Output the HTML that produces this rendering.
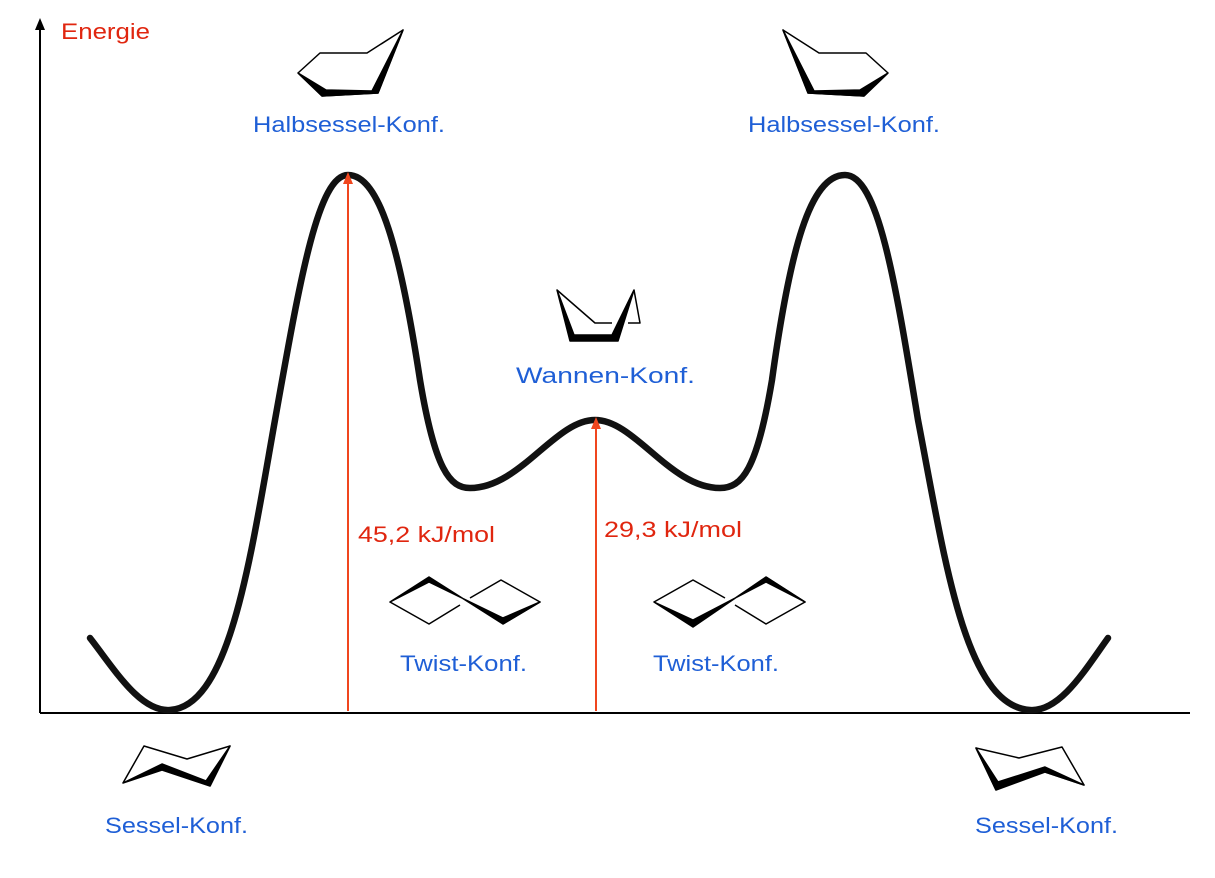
<!DOCTYPE html>
<html><head><meta charset="utf-8"><style>
body{margin:0;background:#fff;}
svg{display:block;}
text{font-family:"Liberation Sans",sans-serif;font-size:22px;}
.b{fill:#1f5fd6;}
.r{fill:#e0260f;}
</style></head><body>
<svg width="1215" height="878" viewBox="0 0 1215 878">
<line x1="40" y1="713" x2="1190" y2="713" stroke="#000" stroke-width="2"/>
<line x1="40" y1="713" x2="40" y2="26" stroke="#000" stroke-width="2"/>
<polygon points="40,18 35,30 45,30" fill="#000"/>
<text x="61" y="39" class="r" textLength="89" lengthAdjust="spacingAndGlyphs">Energie</text>
<path d="M90,638 C115,670 140,712 170,710 C230,706 250,560 275,420 C300,280 318,175 348,175 C380,175 400,250 420,380 C435,470 450,488 470,488 C520,488 555,420 595,420 C635,420 670,488 720,488 C742,488 757,470 772,380 C790,250 810,175 845,175 C878,175 895,280 918,420 C945,560 965,706 1030,710 C1060,712 1085,670 1108,638"
 fill="none" stroke="#111" stroke-width="6.5" stroke-linejoin="round" stroke-linecap="round"/>
<line x1="348" y1="711" x2="348" y2="180" stroke="#f0461e" stroke-width="2"/>
<polygon points="348,172 343,184 353,184" fill="#f0461e"/>
<line x1="596" y1="711" x2="596" y2="425" stroke="#f0461e" stroke-width="2"/>
<polygon points="596,417 591,429 601,429" fill="#f0461e"/>
<text x="358" y="542" class="r" textLength="137" lengthAdjust="spacingAndGlyphs">45,2 kJ/mol</text>
<text x="604" y="537" class="r" textLength="138" lengthAdjust="spacingAndGlyphs">29,3 kJ/mol</text>
<text x="253" y="132" class="b" textLength="192" lengthAdjust="spacingAndGlyphs">Halbsessel-Konf.</text>
<text x="748" y="132" class="b" textLength="192" lengthAdjust="spacingAndGlyphs">Halbsessel-Konf.</text>
<text x="516" y="383" class="b" textLength="179" lengthAdjust="spacingAndGlyphs">Wannen-Konf.</text>
<text x="400" y="671" class="b" textLength="127" lengthAdjust="spacingAndGlyphs">Twist-Konf.</text>
<text x="653" y="671" class="b" textLength="126" lengthAdjust="spacingAndGlyphs">Twist-Konf.</text>
<text x="105" y="833" class="b" textLength="143" lengthAdjust="spacingAndGlyphs">Sessel-Konf.</text>
<text x="975" y="833" class="b" textLength="143" lengthAdjust="spacingAndGlyphs">Sessel-Konf.</text>
<g fill="none" stroke="#000" stroke-width="1.5" stroke-linejoin="round">
<polyline points="298,73 320,53 367,53 403,30 378,93 322,96 298,73"/>
<polygon points="298,73 322,96 378,93 403,30 372,91 326,90" fill="#000"/>
<polyline points="888,73 866,53 819,53 783,30 808,93 864,96 888,73"/>
<polygon points="888,73 864,96 808,93 783,30 814,91 860,90" fill="#000"/>
<polyline points="557,290 595,323 612,323"/>
<polyline points="628,323 640,323 634,290"/>
<polygon points="557,290 570,341 618,341 634,290 612,335 574,335" fill="#000"/>
<polyline points="390,602 429,624 460,605"/>
<polyline points="470,598 501,580 540,602 503,624"/>
<polygon points="390,602 429,577 503,624 540,602 503,618 429,582" fill="#000"/>
<polyline points="654,602 693,580 725,598"/>
<polyline points="735,605 766,624 805,602 766,577"/>
<polygon points="654,602 693,627 766,577 805,602 766,582 693,620" fill="#000"/>
<polyline points="123,783 144,746 187,759 230,746 210,786"/>
<polygon points="123,783 162,770 210,786 230,746 206,781 162,764" fill="#000"/>
<polyline points="996,790 976,748 1019,758 1062,747 1084,785 1045,772"/>
<polygon points="976,748 996,790 1045,772 1084,785 1045,767 998,782" fill="#000"/>
</g>
</svg>
</body></html>
